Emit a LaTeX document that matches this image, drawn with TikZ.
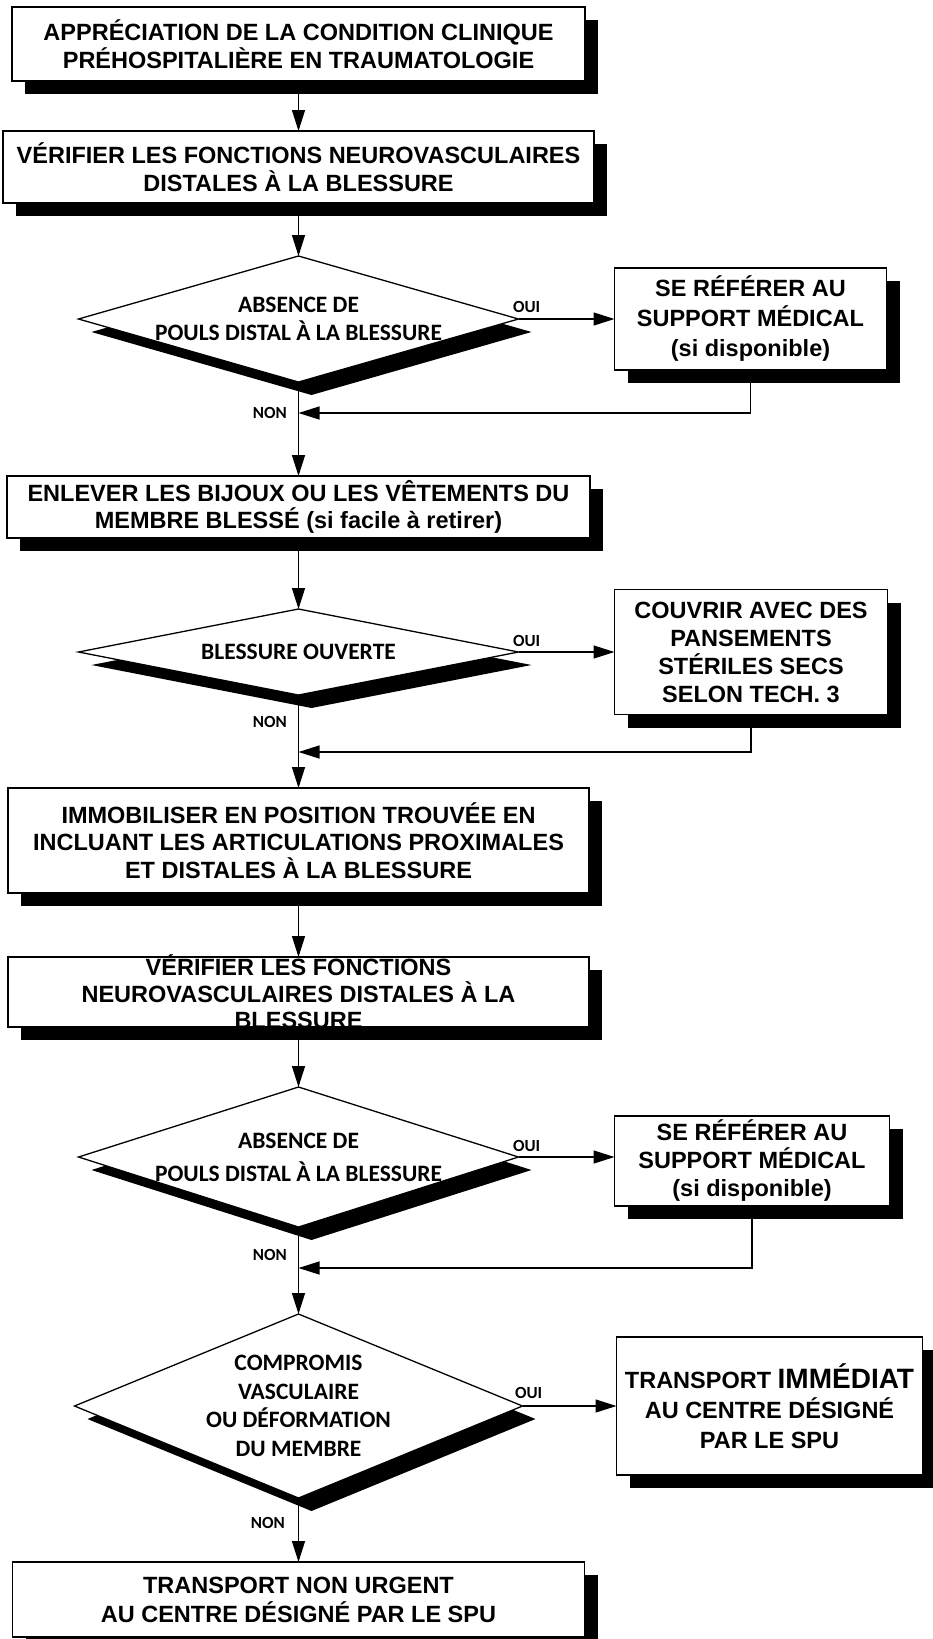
\documentclass[tikz,border=0pt]{standalone}
\usepackage{fontspec}
\setmainfont{Liberation Sans}
\newfontfamily\calibri{Carlito}
\usepackage{tikz}
\usetikzlibrary{shapes.geometric, positioning, shadows}
\usetikzlibrary{arrows.meta}
\tikzset{>={Triangle[width=13pt,length=21pt]}}

\begin{document}
\begin{tikzpicture}[x=1pt, y=1pt, line width=1.3pt, box/.style={rectangle, draw=black, fill=white, line width=1.3pt, inner sep=0pt, outer sep=0pt, align=center, font=\bfseries\fontsize{23.5}{27.5}\selectfont, drop shadow={opacity=1, fill=black, shadow xshift=13pt, shadow yshift=-13pt}}, decision/.style={diamond, draw=black, fill=white, line width=1.3pt, inner sep=0pt, outer sep=0pt, drop shadow={opacity=1, fill=black, shadow xshift=13pt, shadow yshift=-13pt}}, dtext/.style={align=center, inner sep=0pt, font=\calibri\bfseries\fontsize{23.5}{28}\selectfont}, answer/.style={inner sep=0pt, font=\calibri\bfseries\fontsize{17}{17}\selectfont}]

    \useasboundingbox (0,0) rectangle (933,-1639);

    %Nodes
    \node[box, minimum width=573pt, minimum height=74pt](appreciation) at (298.5,-44){APPRÉCIATION DE LA CONDITION CLINIQUE\\PRÉHOSPITALIÈRE EN TRAUMATOLOGIE};
    \node[box, minimum width=591pt, minimum height=72pt](verif1)[below=50pt of appreciation]{VÉRIFIER LES FONCTIONS NEUROVASCULAIRES\\DISTALES À LA BLESSURE};

    \node[decision, minimum width=440pt, minimum height=126pt](pouls1)[below=53pt of verif1]{};
    \node[dtext](pouls1_text) at (pouls1){ABSENCE DE\\POULS DISTAL À LA BLESSURE};
    \node[box, minimum width=272pt, minimum height=102pt, font=\bfseries\fontsize{23.5}{30}\selectfont](medical1)[right=96pt of pouls1]{SE RÉFÉRER AU\\SUPPORT MÉDICAL\\(si disponible)};
    \node[answer](pouls1_oui)[above right=6pt and -6pt of pouls1.east]{OUI};
    \node[answer](pouls1_non)[below left=25pt and 11pt of pouls1.south]{NON};
    \coordinate[below=31pt of pouls1.south](join1);

    \node[box, minimum width=583pt, minimum height=62pt](bijoux)[below=94pt of pouls1]{ENLEVER LES BIJOUX OU LES VÊTEMENTS DU\\MEMBRE BLESSÉ (si facile à retirer)};

    \node[decision, minimum width=440pt, minimum height=86pt](ouverte)[below=71pt of bijoux]{};
    \node[dtext](ouverte_text) at (ouverte){BLESSURE OUVERTE};
    \node[box, minimum width=273pt, minimum height=125pt, font=\bfseries\fontsize{23.5}{28}\selectfont](couvrir)[right=96pt of ouverte]{COUVRIR AVEC DES\\PANSEMENTS\\STÉRILES SECS\\SELON TECH. 3};
    \node[answer](ouverte_oui)[above right=5pt and -6pt of ouverte.east]{OUI};
    \node[answer](ouverte_non)[below left=21pt and 11pt of ouverte.south]{NON};
    \coordinate[below=57pt of ouverte.south](join2);

    \node[box, minimum width=581pt, minimum height=105pt](immobiliser)[below=93pt of ouverte]{IMMOBILISER EN POSITION TROUVÉE EN\\INCLUANT LES ARTICULATIONS PROXIMALES\\ET DISTALES À LA BLESSURE};
    \node[box, minimum width=581pt, minimum height=70pt, inner ysep=-4pt, font=\bfseries\fontsize{23.5}{26.5}\selectfont](verif2)[below=64pt of immobiliser]{VÉRIFIER LES FONCTIONS\\NEUROVASCULAIRES DISTALES À LA\\BLESSURE};

    \node[decision, minimum width=440pt, minimum height=140pt](pouls2)[below=60pt of verif2]{};
    \node[dtext, font=\calibri\bfseries\fontsize{23.5}{33}\selectfont](pouls2_text) at (pouls2){ABSENCE DE\\POULS DISTAL À LA BLESSURE};
    \node[box, minimum width=275pt, minimum height=90pt, font=\bfseries\fontsize{23.5}{28}\selectfont](medical2)[right=96pt of pouls2, yshift=-4pt]{SE RÉFÉRER AU\\SUPPORT MÉDICAL\\(si disponible)};
    \node[answer](pouls2_oui)[above right=5pt and -6pt of pouls2.east]{OUI};
    \node[answer](pouls2_non)[below left=22pt and 11pt of pouls2.south]{NON};
    \coordinate[below=41pt of pouls2.south](join3);

    \node[decision, minimum width=448pt, minimum height=184pt](compromis)[below=87pt of pouls2]{};
    \node[dtext, font=\calibri\bfseries\fontsize{23.5}{28.5}\selectfont](compromis_text) at (compromis){COMPROMIS\\VASCULAIRE\\OU DÉFORMATION\\DU MEMBRE};
    \node[box, minimum width=306pt, minimum height=138pt, font=\bfseries\fontsize{23.5}{30}\selectfont](immediat)[right=94pt of compromis]{TRANSPORT {\fontsize{28}{30}\selectfont IMMÉDIAT}\\AU CENTRE DÉSIGNÉ\\PAR LE SPU};
    \node[answer](compromis_oui)[above right=7pt and -8pt of compromis.east]{OUI};
    \node[answer](compromis_non)[below left=19pt and 13pt of compromis.south]{NON};

    \node[box, minimum width=572pt, minimum height=75pt, font=\bfseries\fontsize{23.5}{29}\selectfont](non_urgent)[below=64pt of compromis]{TRANSPORT NON URGENT\\AU CENTRE DÉSIGNÉ PAR LE SPU};

    %Lines
    \draw[->] (appreciation.south) -- (verif1.north);
    \draw[->] (verif1.south) -- (pouls1.north);
    \draw[->] (pouls1.east) -- (medical1.west);
    \draw[->] (medical1.south) |- (join1);
    \draw[->] (pouls1.south) -- (bijoux.north);
    \draw[->] (bijoux.south) -- (ouverte.north);
    \draw[->] (ouverte.east) -- (couvrir.west);
    \draw[->] (couvrir.south) |- (join2);
    \draw[->] (ouverte.south) -- (immobiliser.north);
    \draw[->] (immobiliser.south) -- (verif2.north);
    \draw[->] (verif2.south) -- (pouls2.north);
    \draw[->] (pouls2.east) -- (pouls2.east -| medical2.west);
    \draw[->] (medical2.south) |- (join3);
    \draw[->] (pouls2.south) -- (compromis.north);
    \draw[->] (compromis.east) -- (immediat.west);
    \draw[->] (compromis.south) -- (non_urgent.north);

\end{tikzpicture}
\end{document}
